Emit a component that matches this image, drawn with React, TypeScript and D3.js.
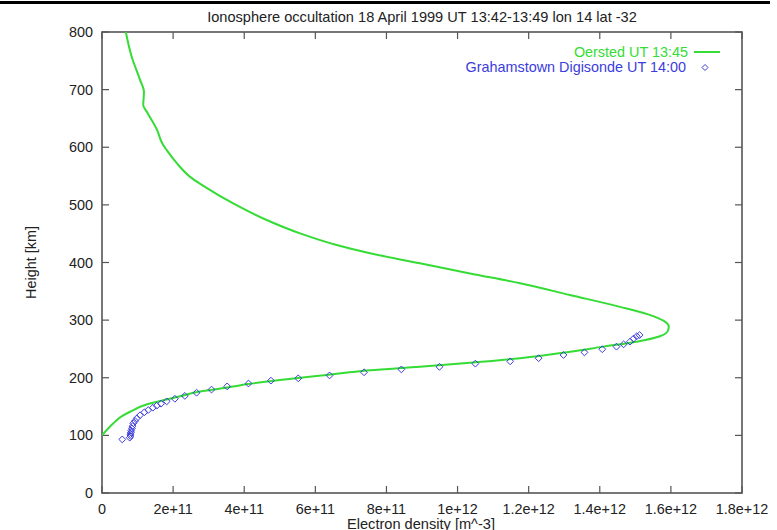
import React from "react";
import * as d3 from "d3";

const W = 777;
const H = 530;

const titleText = "Ionosphere occultation 18 April 1999 UT 13:42-13:49 lon 14 lat -32";
const xLabel = "Electron density [m^-3]";
const yLabel = "Height [km]";
const legendOersted = "Oersted UT 13:45";
const legendDigisonde = "Grahamstown Digisonde UT 14:00";

const xTickValues = [0, 2e11, 4e11, 6e11, 8e11, 1e12, 1.2e12, 1.4e12, 1.6e12, 1.8e12];
const xTickLabels = ["0", "2e+11", "4e+11", "6e+11", "8e+11", "1e+12", "1.2e+12", "1.4e+12", "1.6e+12", "1.8e+12"];
const yTickValues = [0, 100, 200, 300, 400, 500, 600, 700, 800];
const yTickLabels = ["0", "100", "200", "300", "400", "500", "600", "700", "800"];

// Oersted profile: electron density (units of 1e11 m^-3) and height (km)
const oerstedNe = [
  0, 0.32, 0.55, 0.79, 1.27, 1.72, 2.2, 2.76, 3.1, 3.9, 4.1, 5.0, 5.9, 6.9, 7.54, 8.94,
  10.35, 11.76, 13.16, 14.1, 15.04, 15.69, 15.92, 15.94, 15.79, 15.5, 14.57, 13.16,
  11.76, 10.35, 8.94, 7.54, 6.6, 5.57, 4.63, 3.69, 2.85, 2.47, 2.11, 1.82, 1.7, 1.55,
  1.26, 1.16, 1.18, 1.07, 0.835, 0.67,
];
const oerstedH = [
  100, 121, 133, 141, 154, 161, 168, 176, 179, 187, 189, 196, 202, 209, 213, 219,
  226, 234, 245, 254, 262.6, 272, 282, 289, 299, 307, 323, 343.6,
  364, 381, 398.6, 416, 430.4, 450.6, 473.8, 502.6, 533, 549, 572, 595, 606, 630,
  661.6, 673, 696, 717, 757, 800,
];

// Grahamstown Digisonde profile
const digiNe = [
  0.57, 0.78, 0.8, 0.8, 0.81, 0.82, 0.84, 0.86, 0.88, 0.93, 0.98, 1.07, 1.19, 1.3, 1.43,
  1.54, 1.66, 1.82, 2.05, 2.33, 2.66, 3.08, 3.52, 4.12, 4.75, 5.52, 6.4, 7.37, 8.42,
  9.49, 10.5, 11.48, 12.28, 12.98, 13.57, 14.07, 14.47, 14.67, 14.85, 14.95, 15.04, 15.12,
];
const digiH = [
  93, 96, 99, 102, 105, 108, 112, 116, 121, 125, 129.6, 135, 140, 144, 148,
  151.5, 155, 159, 163.5, 168.5, 174, 179.5, 185, 190, 195, 199, 204, 209.5, 214.5,
  219, 224.5, 228.5, 234, 239.5, 244, 249.5, 254, 258, 262.6, 268, 272, 274,
];

const GREEN = "#35dc35";
const BLUE = "#3c3cdc";
const AXIS = "#555";
const FONT = "'Liberation Sans', Arial, Helvetica, sans-serif";
const FS = 14.4;

export default function App() {
  const left = 102, right = 742, top = 32, bottom = 493;
  const x = d3.scaleLinear().domain([0, 1.8e12]).range([left, right]);
  const y = d3.scaleLinear().domain([0, 800]).range([bottom, top]);

  const oersted = oerstedNe.map((v, i) => [v * 1e11, oerstedH[i]] as [number, number]);
  const digi = digiNe.map((v, i) => [v * 1e11, digiH[i]] as [number, number]);

  const line = d3
    .line<[number, number]>()
    .x((d) => x(d[0]))
    .y((d) => y(d[1]))
    .curve(d3.curveMonotoneY);

  const diamond = (cx: number, cy: number, r: number) =>
    `M${cx},${cy - r}L${cx + r},${cy}L${cx},${cy + r}L${cx - r},${cy}Z`;

  const tick = 7;

  return (
    <svg
      width={W}
      height={H}
      style={{ position: "absolute", left: 0, top: 0, background: "#fff" }}
      fontFamily={FONT}
    >
      <rect x={0} y={0} width={W} height={H} fill="#fff" />
      <rect x={0} y={1} width={770} height={3} fill="#000" />
      <defs>
        <clipPath id="plotclip">
          <rect x={left} y={top} width={right - left} height={bottom - top} />
        </clipPath>
      </defs>

      {/* title */}
      <text x={(left + right) / 2} y={21.5} textAnchor="middle" fontSize={14.6} fill="#222">
        {titleText}
      </text>

      {/* ticks */}
      {xTickValues.map((v, i) => (
        <g key={"xt" + i}>
          <line x1={x(v)} x2={x(v)} y1={bottom} y2={bottom - tick} stroke={AXIS} strokeWidth={1.2} />
          <line x1={x(v)} x2={x(v)} y1={top} y2={top + tick} stroke={AXIS} strokeWidth={1.2} />
          <text x={x(v)} y={513.5} textAnchor="middle" fontSize={FS} fill="#222">
            {xTickLabels[i]}
          </text>
        </g>
      ))}
      {yTickValues.map((v, i) => (
        <g key={"yt" + i}>
          <line x1={left} x2={left + tick} y1={y(v)} y2={y(v)} stroke={AXIS} strokeWidth={1.2} />
          <line x1={right} x2={right - tick} y1={y(v)} y2={y(v)} stroke={AXIS} strokeWidth={1.2} />
          <text x={93} y={y(v) + 5} textAnchor="end" fontSize={FS} fill="#222">
            {yTickLabels[i]}
          </text>
        </g>
      ))}

      {/* frame */}
      <rect x={left} y={top} width={right - left} height={bottom - top} fill="none" stroke={AXIS} strokeWidth={1.6} />

      {/* axis titles */}
      <text x={421} y={528.5} textAnchor="middle" fontSize={14.6} fill="#222">
        {xLabel}
      </text>
      <text
        transform={`translate(36,${(top + bottom) / 2}) rotate(-90)`}
        textAnchor="middle"
        fontSize={FS}
        fill="#222"
      >
        {yLabel}
      </text>

      {/* data */}
      <g clipPath="url(#plotclip)">
        <path d={line(oersted) || ""} fill="none" stroke={GREEN} strokeWidth={2} />
        {digi.map((d, i) => (
          <path key={"dg" + i} d={diamond(x(d[0]), y(d[1]), 3.4)} fill="none" stroke={BLUE} strokeWidth={1} />
        ))}
      </g>

      {/* legend */}
      <text x={688} y={56.5} textAnchor="end" fontSize={FS} fill={GREEN}>
        {legendOersted}
      </text>
      <line x1={694} x2={720} y1={52} y2={52} stroke={GREEN} strokeWidth={2} />
      <text x={686} y={72} textAnchor="end" fontSize={FS} fill={BLUE}>
        {legendDigisonde}
      </text>
      <path d={diamond(705, 67.5, 3)} fill="none" stroke={BLUE} strokeWidth={1} />
    </svg>
  );
}
